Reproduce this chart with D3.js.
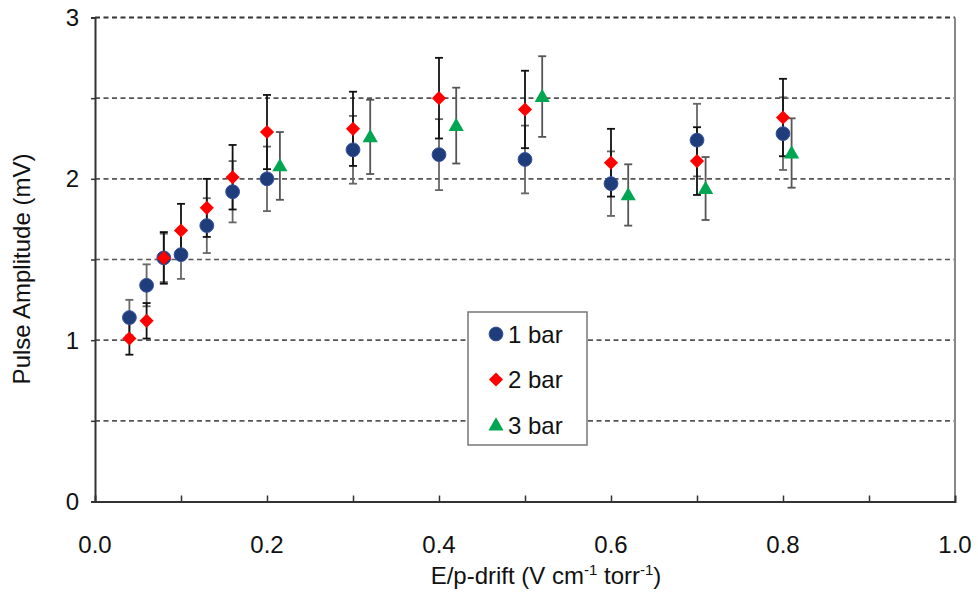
<!DOCTYPE html>
<html><head><meta charset="utf-8">
<script src="https://cdn.jsdelivr.net/npm/d3@7"></script>
<style>body{margin:0;background:#fff}svg{display:block;font-family:"Liberation Sans",Arial,sans-serif}</style>
</head><body>
<svg id="c" width="978" height="592"></svg>
<script>
const x1 = [0.04,0.06,0.08,0.10,0.13,0.16,0.20,0.30,0.40,0.50,0.60,0.70,0.80];
const y1 = [1.14,1.34,1.51,1.53,1.71,1.92,2.00,2.18,2.15,2.12,1.97,2.24,2.28];
const e1 = [0.11,0.13,0.15,0.15,0.17,0.19,0.20,0.21,0.22,0.21,0.20,0.225,0.225];
const x2 = [0.04,0.06,0.08,0.10,0.13,0.16,0.20,0.30,0.40,0.50,0.60,0.70,0.80];
const y2 = [1.01,1.12,1.51,1.68,1.82,2.01,2.29,2.31,2.50,2.43,2.10,2.11,2.38];
const e2 = [0.10,0.11,0.16,0.165,0.18,0.20,0.23,0.23,0.25,0.24,0.21,0.21,0.24];
const x3 = [0.215,0.32,0.42,0.52,0.62,0.71,0.81];
const y3 = [2.08,2.26,2.33,2.51,1.90,1.94,2.16];
const e3 = [0.21,0.23,0.235,0.25,0.19,0.195,0.215];
const seriesNames = ["1 bar","2 bar","3 bar"];
const xTicks = [0,0.2,0.4,0.6,0.8,1.0];
const xMinor = [0.1,0.2,0.3,0.4,0.5,0.6,0.7,0.8,0.9];
const yTicks = [0,0.5,1,1.5,2,2.5,3];
const yLabels = [0,1,2,3];
const xTitle = "E/p-drift (V cm", xSup = "-1", xMid = " torr";
const yTitle = "Pulse Amplitude (mV)";

const L=95,R=955,T=17.5,B=501.5;
const svg=d3.select("#c");
const x=d3.scaleLinear().domain([0,1]).range([L,R]);
const y=d3.scaleLinear().domain([0,3]).range([B,T]);
const FS=24;

// gridlines (dashed)
svg.append("g").selectAll("line").data(yTicks.filter(d=>d>0)).join("line")
  .attr("x1",L).attr("x2",R).attr("y1",d=>y(d)).attr("y2",d=>y(d))
  .attr("stroke",d=>d===3?"#333":"#555").attr("stroke-width",d=>d===3?2:1.6)
  .attr("stroke-dasharray","5,3.5");
// right border
svg.append("line").attr("x1",R).attr("x2",R).attr("y1",T).attr("y2",B)
  .attr("stroke","#888").attr("stroke-width",2);

// y axis
const ya=svg.append("g").attr("transform",`translate(${L},0)`)
  .call(d3.axisLeft(y).tickValues(yTicks).tickSize(4).tickFormat(""));
ya.select(".domain").attr("stroke","#333").attr("stroke-width",2);
ya.selectAll(".tick line").attr("stroke","#333").attr("stroke-width",1.5);
svg.append("g").selectAll("text").data(yLabels).join("text")
  .attr("x",79).attr("y",d=>y(d)).attr("dy","0.36em").attr("text-anchor","end")
  .attr("font-size",FS).attr("fill","#111").text(d=>d);

// x axis
const xa=svg.append("g").attr("transform",`translate(0,${B})`)
  .call(d3.axisBottom(x).tickValues(xMinor).tickSize(-6).tickFormat(""));
xa.select(".domain").attr("stroke","#333").attr("stroke-width",2);
xa.selectAll(".tick line").attr("stroke","#333").attr("stroke-width",1.5);
svg.append("g").selectAll("text").data(xTicks).join("text")
  .attr("x",d=>x(d)).attr("y",553).attr("text-anchor","middle")
  .attr("font-size",FS).attr("fill","#111").text(d=>d.toFixed(1));

// titles
const xt=svg.append("text").attr("x",546).attr("y",584).attr("text-anchor","middle")
  .attr("font-size",FS).attr("fill","#111");
xt.append("tspan").text(xTitle);
xt.append("tspan").attr("font-size",15).attr("dy",-9).text(xSup);
xt.append("tspan").attr("dy",9).text(xMid);
xt.append("tspan").attr("font-size",15).attr("dy",-9).text(xSup);
xt.append("tspan").attr("dy",9).text(")");
svg.append("text").attr("transform","translate(30,269) rotate(-90)").attr("text-anchor","middle")
  .attr("font-size",FS).attr("fill","#111").text(yTitle);

const series=[
  {xs:x1,ys:y1,es:e1,sym:d3.symbolCircle,size:150,fill:"#1f3d7a",stroke:"#3550a0",ec:"#666",rot:0},
  {xs:x2,ys:y2,es:e2,sym:d3.symbolSquare,size:100,fill:"#ff0000",stroke:"none",ec:"#111",rot:45},
  {xs:x3,ys:y3,es:e3,sym:d3.symbolTriangle,size:100,fill:"#00a651",stroke:"none",ec:"#555",rot:0}
];
// error bars
series.forEach(s=>{
  const g=svg.append("g").attr("stroke",s.ec).attr("stroke-width",1.8);
  const d=s.xs.map((v,i)=>({x:v,y:s.ys[i],e:s.es[i]}));
  g.selectAll(".v").data(d).join("line").attr("x1",p=>x(p.x)).attr("x2",p=>x(p.x))
    .attr("y1",p=>y(p.y+p.e)).attr("y2",p=>y(p.y-p.e));
  g.selectAll(".t").data(d).join("line").attr("x1",p=>x(p.x)-4).attr("x2",p=>x(p.x)+4)
    .attr("y1",p=>y(p.y+p.e)).attr("y2",p=>y(p.y+p.e));
  g.selectAll(".b").data(d).join("line").attr("x1",p=>x(p.x)-4).attr("x2",p=>x(p.x)+4)
    .attr("y1",p=>y(p.y-p.e)).attr("y2",p=>y(p.y-p.e));
});
// markers
series.forEach(s=>{
  const d=s.xs.map((v,i)=>({x:v,y:s.ys[i]}));
  svg.append("g").selectAll("path").data(d).join("path")
    .attr("d",d3.symbol().type(s.sym).size(s.size))
    .attr("transform",p=>`translate(${x(p.x)},${y(p.y)+(s.sym===d3.symbolTriangle?1:0)}) rotate(${s.rot})`)
    .attr("fill",s.fill).attr("stroke",s.stroke).attr("stroke-width",1);
});

// legend
const lg=svg.append("g");
lg.append("rect").attr("x",468).attr("y",312).attr("width",119).attr("height",133)
  .attr("fill","#fff").attr("stroke","#777").attr("stroke-width",1.5);
series.forEach((s,i)=>{
  const cy=334+i*45.5;
  lg.append("path").attr("d",d3.symbol().type(s.sym).size(s.size))
    .attr("transform",`translate(496,${cy+(i===2?1:0)}) rotate(${s.rot})`)
    .attr("fill",s.fill).attr("stroke",s.stroke).attr("stroke-width",1);
  lg.append("text").attr("x",508).attr("y",cy).attr("dy","0.36em")
    .attr("font-size",FS).attr("fill","#111").text(seriesNames[i]);
});
</script>
</body></html>
